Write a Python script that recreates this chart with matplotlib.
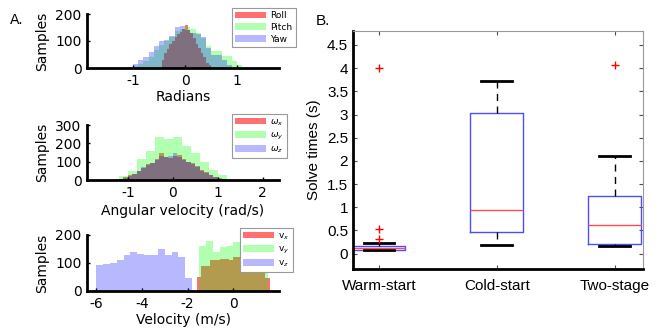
import matplotlib
matplotlib.use('Agg')
import matplotlib.pyplot as plt
import numpy as np

plt.rcParams['axes.unicode_minus'] = False
plt.rcParams['font.family'] = 'DejaVu Sans'

# ---- panel A data (histogram bin edges and counts) ----
roll_edges = np.round(np.arange(-0.45, 0.501, 0.05), 3)
roll_counts = [30, 57, 70, 90, 100, 115, 125, 135, 145, 158, 140, 128, 110, 90, 75, 55, 40, 20, 10]
pitch_edges = np.round(np.arange(-1.0, 1.101, 0.1), 3)
pitch_counts = [8, 15, 25, 40, 65, 85, 100, 115, 138, 145, 152, 143, 130, 110, 81, 62, 62, 44, 44, 25, 12]
yaw_edges = np.round(np.arange(-1.0, 0.901, 0.1), 3)
yaw_counts = [15, 30, 40, 60, 81, 100, 105, 120, 153, 155, 140, 130, 125, 115, 75, 50, 50, 30, 10]

wx_edges = np.round(np.arange(-1.3, 1.301, 0.1), 3)
wx_counts = [3, 8, 15, 25, 35, 50, 65, 85, 95, 115, 145, 125, 120, 130, 135, 115, 100, 92, 75, 55, 42, 28, 18, 10, 5, 2]
wy_edges = np.round(np.arange(-1.4, 1.401, 0.2), 3)
wy_counts = [8, 24, 51, 114, 158, 237, 225, 233, 188, 150, 97, 53, 26, 8]
wz_edges = np.round(np.arange(-1.3, 1.301, 0.1), 3)
wz_counts = [2, 6, 12, 22, 33, 48, 70, 80, 95, 110, 130, 125, 130, 150, 125, 110, 100, 85, 70, 50, 38, 25, 14, 6, 3, 1]

vx_edges = np.round(np.arange(-1.6, 1.601, 0.2), 3)
vx_counts = [49, 88, 88, 112, 112, 114, 114, 112, 120, 120, 122, 118, 115, 110, 100, 45]
vy_edges = np.round(np.arange(-1.5, 1.501, 0.3), 3)
vy_counts = [160, 180, 139, 157, 160, 176, 170, 165, 160, 150]
vz_edges = np.round(np.arange(-6.0, -1.799, 0.3), 3)
vz_counts = [92, 97, 100, 112, 130, 140, 133, 128, 127, 150, 127, 140, 121, 48]

# ---- panel B data (box plot summaries) ----
methods = ['Warm-start', 'Cold-start', 'Two-stage']
q1 = [0.09, 0.47, 0.21]
med = [0.12, 0.945, 0.61]
q3 = [0.16, 3.03, 1.25]
whis_lo = [0.08, 0.19, 0.16]
whis_hi = [0.22, 3.72, 2.1]
outliers = [[4.01, 0.53, 0.32], [], [4.06]]

W, H = 665, 331
fig = plt.figure(figsize=(W / 100, H / 100), dpi=100)


def px_axes(x0, y0, x1, y1):
    return fig.add_axes([x0 / W, 1 - y1 / H, (x1 - x0) / W, (y1 - y0) / H])


def fig_pt(x, y):
    return (x / W, 1 - y / H)


RED = (1, 0, 0)
GREEN = (0, 1, 0)
BLUE = (0, 0, 1)


def style_hist_axes(ax):
    for s in ['top', 'right']:
        ax.spines[s].set_visible(False)
    for s in ['left', 'bottom']:
        ax.spines[s].set_linewidth(2)
    ax.tick_params(direction='in', length=2, width=1, labelsize=10, pad=4)
    ax.set_ylabel('Samples', fontsize=10)


def hist_panel(ax, series, labels, anchor):
    for (edges, counts), color, alpha, lab in zip(series, [RED, GREEN, BLUE], [0.56, 0.3, 0.28], labels):
        ax.stairs(counts, edges, fill=True, color=color, alpha=alpha, lw=0, label=lab)
    leg = ax.legend(loc='upper left', bbox_to_anchor=fig_pt(*anchor), bbox_transform=fig.transFigure,
                    fontsize=6.5, handlelength=3.4, handleheight=0.8, fancybox=False, framealpha=1,
                    edgecolor='0.6', borderpad=0.35, labelspacing=0.3, handletextpad=0.5,
                    borderaxespad=0)
    leg.get_frame().set_linewidth(0.8)
    style_hist_axes(ax)


# top: radians
ax1 = px_axes(87, 14, 279, 68)
hist_panel(ax1, [(roll_edges, roll_counts), (pitch_edges, pitch_counts), (yaw_edges, yaw_counts)],
           ['Roll', 'Pitch', 'Yaw'], (232, 8))
ax1.set_xlim(-1.88, 1.8)
ax1.set_ylim(0, 200)
ax1.set_xticks([-1, 0, 1])
ax1.set_yticks([0, 100, 200])
ax1.set_xlabel('Radians', fontsize=10, labelpad=2)

# middle: angular velocity
ax2 = px_axes(87, 125, 279, 180)
hist_panel(ax2, [(wx_edges, wx_counts), (wy_edges, wy_counts), (wz_edges, wz_counts)],
           [r'$\omega_x$', r'$\omega_y$', r'$\omega_z$'], (232, 114))
ax2.set_xlim(-1.91, 2.36)
ax2.set_ylim(0, 300)
ax2.set_xticks([-1, 0, 1, 2])
ax2.set_yticks([0, 100, 200, 300])
ax2.set_xlabel('Angular velocity (rad/s)', fontsize=10, labelpad=3)

# bottom: velocity
ax3 = px_axes(87, 235, 279, 291)
hist_panel(ax3, [(vx_edges, vx_counts), (vy_edges, vy_counts), (vz_edges, vz_counts)],
           ['v$_x$', 'v$_y$', 'v$_z$'], (240, 228))
ax3.set_xlim(-6.4, 2.0)
ax3.set_ylim(0, 200)
ax3.set_xticks([-6, -4, -2, 0])
ax3.set_yticks([0, 100, 200])
ax3.set_xlabel('Velocity (m/s)', fontsize=10, labelpad=2)

fig.text(10 / W, 1 - 24 / H, 'A.', fontsize=10)

# ---- panel B ----
axb = px_axes(353, 31, 643, 269)
stats = []
for i in range(len(methods)):
    stats.append(dict(label=methods[i], q1=q1[i], med=med[i], q3=q3[i],
                      whislo=whis_lo[i], whishi=whis_hi[i], fliers=outliers[i]))
axb.bxp(stats, positions=[1, 2, 3], widths=0.45, capwidths=0.26,
        boxprops=dict(color=(0.3, 0.3, 1), lw=1),
        medianprops=dict(color=(1, 0.3, 0.3), lw=1),
        whiskerprops=dict(color='black', lw=1, ls=(0, (5, 4))),
        capprops=dict(color='black', lw=2),
        flierprops=dict(marker='+', markeredgecolor='red', markersize=6, lw=0))
axb.set_xlim(0.78, 3.24)
axb.set_ylim(-0.33, 4.8)
axb.set_yticks(np.arange(0, 4.51, 0.5))
axb.set_yticklabels(['%g' % v for v in np.arange(0, 4.51, 0.5)])
for s in ['left', 'bottom']:
    axb.spines[s].set_linewidth(2)
for s in ['top', 'right']:
    axb.spines[s].set_color('0.6')
axb.tick_params(direction='in', top=True, right=True, length=3, color='0.3')
axb.tick_params(axis='x', pad=7)
for lab in axb.get_xticklabels() + axb.get_yticklabels():
    lab.set_fontfamily('Liberation Sans')
    lab.set_fontsize(11)
axb.set_ylabel('Solve times (s)', fontsize=11, family='Liberation Sans')
fig.text(316 / W, 1 - 25 / H, 'B.', fontsize=11, family='Liberation Sans')

fig.savefig('out.png', dpi=100)
